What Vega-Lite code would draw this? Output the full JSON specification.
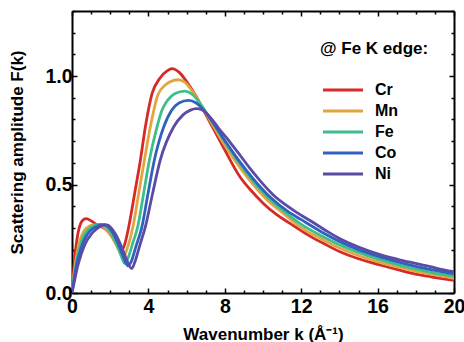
{
  "$schema": "https://vega.github.io/schema/vega-lite/v6.json",
  "width": 382,
  "height": 282,
  "autosize": {"type": "none"},
  "padding": {"left": 72, "top": 11, "right": 10, "bottom": 49},
  "background": "white",
  "config": {"view": {"stroke": null}, "font": "Liberation Sans"},
  "datasets": {
    "curves": [
      {"el":"Cr","k":0,"F":0},{"el":"Cr","k":0.15,"F":0.17},{"el":"Cr","k":0.3,"F":0.27},{"el":"Cr","k":0.45,"F":0.32},{"el":"Cr","k":0.6,"F":0.338},{"el":"Cr","k":0.75,"F":0.343},{"el":"Cr","k":0.9,"F":0.338},{"el":"Cr","k":1.1,"F":0.327},{"el":"Cr","k":1.3,"F":0.315},{"el":"Cr","k":1.5,"F":0.307},{"el":"Cr","k":1.7,"F":0.298},{"el":"Cr","k":1.9,"F":0.282},{"el":"Cr","k":2.1,"F":0.258},{"el":"Cr","k":2.3,"F":0.228},{"el":"Cr","k":2.45,"F":0.207},{"el":"Cr","k":2.6,"F":0.196},{"el":"Cr","k":2.75,"F":0.222},{"el":"Cr","k":2.97,"F":0.305},{"el":"Cr","k":3.28,"F":0.459},{"el":"Cr","k":3.58,"F":0.612},{"el":"Cr","k":3.84,"F":0.765},{"el":"Cr","k":4.19,"F":0.919},{"el":"Cr","k":4.6,"F":0.99},{"el":"Cr","k":5.0,"F":1.025},{"el":"Cr","k":5.24,"F":1.034},{"el":"Cr","k":5.6,"F":1.018},{"el":"Cr","k":6.0,"F":0.975},{"el":"Cr","k":6.54,"F":0.9},{"el":"Cr","k":6.96,"F":0.83},{"el":"Cr","k":7.45,"F":0.75},{"el":"Cr","k":7.92,"F":0.673},{"el":"Cr","k":8.8,"F":0.535},{"el":"Cr","k":9.4,"F":0.47},{"el":"Cr","k":10.02,"F":0.413},{"el":"Cr","k":10.7,"F":0.362},{"el":"Cr","k":11.41,"F":0.321},{"el":"Cr","k":12.37,"F":0.267},{"el":"Cr","k":13.2,"F":0.227},{"el":"Cr","k":14.03,"F":0.19},{"el":"Cr","k":15,"F":0.158},{"el":"Cr","k":16.13,"F":0.129},{"el":"Cr","k":17.2,"F":0.104},{"el":"Cr","k":18.22,"F":0.083},{"el":"Cr","k":19.1,"F":0.07},{"el":"Cr","k":20,"F":0.058},

      {"el":"Mn","k":0,"F":0},{"el":"Mn","k":0.15,"F":0.12},{"el":"Mn","k":0.3,"F":0.2},{"el":"Mn","k":0.45,"F":0.25},{"el":"Mn","k":0.6,"F":0.282},{"el":"Mn","k":0.8,"F":0.302},{"el":"Mn","k":1.0,"F":0.312},{"el":"Mn","k":1.2,"F":0.314},{"el":"Mn","k":1.4,"F":0.312},{"el":"Mn","k":1.6,"F":0.306},{"el":"Mn","k":1.8,"F":0.293},{"el":"Mn","k":2.0,"F":0.272},{"el":"Mn","k":2.2,"F":0.244},{"el":"Mn","k":2.4,"F":0.207},{"el":"Mn","k":2.55,"F":0.178},{"el":"Mn","k":2.68,"F":0.163},{"el":"Mn","k":2.85,"F":0.195},{"el":"Mn","k":3.19,"F":0.305},{"el":"Mn","k":3.49,"F":0.459},{"el":"Mn","k":3.79,"F":0.612},{"el":"Mn","k":4.1,"F":0.765},{"el":"Mn","k":4.49,"F":0.912},{"el":"Mn","k":4.9,"F":0.96},{"el":"Mn","k":5.25,"F":0.978},{"el":"Mn","k":5.58,"F":0.983},{"el":"Mn","k":5.9,"F":0.972},{"el":"Mn","k":6.3,"F":0.93},{"el":"Mn","k":6.8,"F":0.86},{"el":"Mn","k":7.3,"F":0.785},{"el":"Mn","k":7.9,"F":0.695},{"el":"Mn","k":8.5,"F":0.615},{"el":"Mn","k":9.3,"F":0.52},{"el":"Mn","k":10.2,"F":0.43},{"el":"Mn","k":11.1,"F":0.365},{"el":"Mn","k":12,"F":0.3},{"el":"Mn","k":13,"F":0.252},{"el":"Mn","k":14,"F":0.207},{"el":"Mn","k":15,"F":0.173},{"el":"Mn","k":16,"F":0.145},{"el":"Mn","k":17,"F":0.121},{"el":"Mn","k":18,"F":0.1},{"el":"Mn","k":19,"F":0.083},{"el":"Mn","k":20,"F":0.068},

      {"el":"Fe","k":0,"F":0},{"el":"Fe","k":0.15,"F":0.1},{"el":"Fe","k":0.3,"F":0.175},{"el":"Fe","k":0.45,"F":0.225},{"el":"Fe","k":0.6,"F":0.26},{"el":"Fe","k":0.8,"F":0.288},{"el":"Fe","k":1.0,"F":0.303},{"el":"Fe","k":1.2,"F":0.312},{"el":"Fe","k":1.45,"F":0.316},{"el":"Fe","k":1.7,"F":0.31},{"el":"Fe","k":1.9,"F":0.294},{"el":"Fe","k":2.1,"F":0.268},{"el":"Fe","k":2.3,"F":0.232},{"el":"Fe","k":2.5,"F":0.19},{"el":"Fe","k":2.65,"F":0.154},{"el":"Fe","k":2.77,"F":0.135},{"el":"Fe","k":2.95,"F":0.165},{"el":"Fe","k":3.2,"F":0.235},{"el":"Fe","k":3.44,"F":0.305},{"el":"Fe","k":3.75,"F":0.459},{"el":"Fe","k":4.05,"F":0.612},{"el":"Fe","k":4.45,"F":0.765},{"el":"Fe","k":4.71,"F":0.842},{"el":"Fe","k":5.0,"F":0.888},{"el":"Fe","k":5.4,"F":0.92},{"el":"Fe","k":5.9,"F":0.931},{"el":"Fe","k":6.3,"F":0.915},{"el":"Fe","k":6.8,"F":0.862},{"el":"Fe","k":7.3,"F":0.795},{"el":"Fe","k":7.9,"F":0.71},{"el":"Fe","k":8.5,"F":0.632},{"el":"Fe","k":9.3,"F":0.535},{"el":"Fe","k":10.2,"F":0.445},{"el":"Fe","k":11.1,"F":0.377},{"el":"Fe","k":12,"F":0.316},{"el":"Fe","k":13,"F":0.266},{"el":"Fe","k":14,"F":0.222},{"el":"Fe","k":15,"F":0.187},{"el":"Fe","k":16,"F":0.157},{"el":"Fe","k":17,"F":0.132},{"el":"Fe","k":18,"F":0.111},{"el":"Fe","k":19,"F":0.092},{"el":"Fe","k":20,"F":0.078},

      {"el":"Co","k":0,"F":0},{"el":"Co","k":0.15,"F":0.085},{"el":"Co","k":0.3,"F":0.155},{"el":"Co","k":0.45,"F":0.2},{"el":"Co","k":0.6,"F":0.237},{"el":"Co","k":0.8,"F":0.27},{"el":"Co","k":1.0,"F":0.29},{"el":"Co","k":1.25,"F":0.305},{"el":"Co","k":1.5,"F":0.314},{"el":"Co","k":1.72,"F":0.315},{"el":"Co","k":1.95,"F":0.3},{"el":"Co","k":2.15,"F":0.275},{"el":"Co","k":2.35,"F":0.24},{"el":"Co","k":2.55,"F":0.198},{"el":"Co","k":2.75,"F":0.152},{"el":"Co","k":2.93,"F":0.125},{"el":"Co","k":3.1,"F":0.145},{"el":"Co","k":3.35,"F":0.215},{"el":"Co","k":3.66,"F":0.305},{"el":"Co","k":3.98,"F":0.459},{"el":"Co","k":4.31,"F":0.612},{"el":"Co","k":4.8,"F":0.765},{"el":"Co","k":5.22,"F":0.842},{"el":"Co","k":5.6,"F":0.876},{"el":"Co","k":6.1,"F":0.888},{"el":"Co","k":6.5,"F":0.876},{"el":"Co","k":7.0,"F":0.832},{"el":"Co","k":7.5,"F":0.77},{"el":"Co","k":8.1,"F":0.69},{"el":"Co","k":8.7,"F":0.615},{"el":"Co","k":9.5,"F":0.525},{"el":"Co","k":10.4,"F":0.44},{"el":"Co","k":11.3,"F":0.376},{"el":"Co","k":12,"F":0.338},{"el":"Co","k":13,"F":0.285},{"el":"Co","k":14,"F":0.238},{"el":"Co","k":15,"F":0.2},{"el":"Co","k":16,"F":0.17},{"el":"Co","k":17,"F":0.145},{"el":"Co","k":18,"F":0.123},{"el":"Co","k":19,"F":0.104},{"el":"Co","k":20,"F":0.088},

      {"el":"Ni","k":0,"F":0},{"el":"Ni","k":0.15,"F":0.065},{"el":"Ni","k":0.3,"F":0.125},{"el":"Ni","k":0.45,"F":0.17},{"el":"Ni","k":0.6,"F":0.208},{"el":"Ni","k":0.8,"F":0.245},{"el":"Ni","k":1.0,"F":0.27},{"el":"Ni","k":1.25,"F":0.293},{"el":"Ni","k":1.5,"F":0.308},{"el":"Ni","k":1.82,"F":0.314},{"el":"Ni","k":2.05,"F":0.3},{"el":"Ni","k":2.25,"F":0.275},{"el":"Ni","k":2.45,"F":0.242},{"el":"Ni","k":2.65,"F":0.2},{"el":"Ni","k":2.85,"F":0.155},{"el":"Ni","k":3.0,"F":0.125},{"el":"Ni","k":3.13,"F":0.113},{"el":"Ni","k":3.3,"F":0.145},{"el":"Ni","k":3.55,"F":0.22},{"el":"Ni","k":3.84,"F":0.305},{"el":"Ni","k":4.22,"F":0.459},{"el":"Ni","k":4.62,"F":0.612},{"el":"Ni","k":5.32,"F":0.765},{"el":"Ni","k":5.8,"F":0.82},{"el":"Ni","k":6.2,"F":0.843},{"el":"Ni","k":6.5,"F":0.85},{"el":"Ni","k":6.8,"F":0.845},{"el":"Ni","k":7.23,"F":0.811},{"el":"Ni","k":7.7,"F":0.757},{"el":"Ni","k":8.27,"F":0.696},{"el":"Ni","k":8.8,"F":0.635},{"el":"Ni","k":9.32,"F":0.574},{"el":"Ni","k":9.9,"F":0.512},{"el":"Ni","k":10.54,"F":0.452},{"el":"Ni","k":11.1,"F":0.412},{"el":"Ni","k":11.76,"F":0.372},{"el":"Ni","k":12.46,"F":0.334},{"el":"Ni","k":13.2,"F":0.293},{"el":"Ni","k":14.03,"F":0.25},{"el":"Ni","k":15,"F":0.212},{"el":"Ni","k":16.13,"F":0.177},{"el":"Ni","k":17.2,"F":0.152},{"el":"Ni","k":18.22,"F":0.132},{"el":"Ni","k":19.1,"F":0.114},{"el":"Ni","k":20,"F":0.098}
    ]
  },
  "data": {"name": "curves"},
  "layer": [
    {
      "mark": {"type": "line", "interpolate": "monotone", "strokeWidth": 2.8, "clip": true},
      "encoding": {
        "x": {
          "field": "k", "type": "quantitative",
          "scale": {"domain": [0, 20], "nice": false, "zero": false},
          "axis": {
            "orient": "bottom",
            "values": [0,1,2,3,4,5,6,7,8,9,10,11,12,13,14,15,16,17,18,19,20],
            "format": "d",
            "labelExpr": "datum.value % 4 === 0 ? datum.label : ''",
            "tickSize": {"condition": {"test": "datum.value % 4 === 0", "value": -5}, "value": -3},
            "tickWidth": 1.5, "tickColor": "black",
            "domainColor": "black", "domainWidth": 2,
            "labelFont": "Liberation Sans", "labelFontSize": 19.5, "labelFontWeight": "bold", "labelColor": "black",
            "labelPadding": 9, "labelFlush": false, "labelOverlap": false,
            "grid": false,
            "title": "Wavenumber k (Å⁻¹)",
            "titleFont": "Liberation Sans", "titleFontSize": 17, "titleFontWeight": "bold", "titleColor": "black",
            "titleX": 191, "titleY": 46, "titleBaseline": "alphabetic", "titleAlign": "center"
          }
        },
        "y": {
          "field": "F", "type": "quantitative",
          "scale": {"domain": [0, 1.3], "nice": false},
          "axis": {
            "orient": "left",
            "values": [0,0.1,0.2,0.3,0.4,0.5,0.6,0.7,0.8,0.9,1.0,1.1,1.2,1.3],
            "format": ".1f",
            "labelExpr": "abs(datum.value*2 - round(datum.value*2)) < 0.001 ? datum.label : ''",
            "tickSize": {"condition": {"test": "abs(datum.value*2 - round(datum.value*2)) < 0.001", "value": -5}, "value": -3},
            "tickWidth": 1.5, "tickColor": "black",
            "domainColor": "black", "domainWidth": 2,
            "labelFont": "Liberation Sans", "labelFontSize": 19.5, "labelFontWeight": "bold", "labelColor": "black",
            "labelPadding": 5, "labelFlush": false, "labelOverlap": false,
            "grid": false,
            "title": "Scattering amplitude F(k)",
            "titleFont": "Liberation Sans", "titleFontSize": 17, "titleFontWeight": "bold", "titleColor": "black",
            "titleX": -55, "titleY": 141, "titleAngle": -90, "titleBaseline": "middle", "titleAlign": "center"
          }
        },
        "color": {
          "field": "el", "type": "nominal",
          "scale": {"domain": ["Cr","Mn","Fe","Co","Ni"], "range": ["#d62a27","#e2a541","#3dbf8c","#2f62bf","#5b4aa6"]},
          "legend": {
            "orient": "none", "legendX": 248, "legendY": 30,
            "title": "@ Fe K edge:",
            "titleFont": "Liberation Sans", "titleFontSize": 17, "titleFontWeight": "bold", "titleColor": "black",
            "titlePadding": 24, "titleAnchor": "start", "titleAlign": "left",
            "labelFont": "Liberation Sans", "labelFontSize": 16, "labelFontWeight": "bold", "labelColor": "black",
            "symbolType": "M-4,0M-1.2,0H6.8", "symbolSize": 100, "symbolStrokeWidth": 3,
            "symbolOffset": 1, "labelOffset": 38, "rowPadding": 5, "padding": 0
          }
        }
      }
    },
    {
      "mark": {"type": "line", "opacity": 0},
      "encoding": {
        "detail": {"field": "el"},
        "x": {
          "field": "k", "type": "quantitative",
          "axis": {
            "orient": "top",
            "values": [0,1,2,3,4,5,6,7,8,9,10,11,12,13,14,15,16,17,18,19,20],
            "labels": false, "title": null, "grid": false,
            "tickSize": {"condition": {"test": "datum.value % 4 === 0", "value": -5}, "value": -3},
            "tickWidth": 1.5, "tickColor": "black",
            "domainColor": "black", "domainWidth": 2
          }
        },
        "y": {
          "field": "F", "type": "quantitative",
          "axis": {
            "orient": "right",
            "values": [0,0.1,0.2,0.3,0.4,0.5,0.6,0.7,0.8,0.9,1.0,1.1,1.2,1.3],
            "labels": false, "title": null, "grid": false,
            "tickSize": {"condition": {"test": "abs(datum.value*2 - round(datum.value*2)) < 0.001", "value": -5}, "value": -3},
            "tickWidth": 1.5, "tickColor": "black",
            "domainColor": "black", "domainWidth": 2
          }
        }
      }
    }
  ],
  "resolve": {"axis": {"x": "independent", "y": "independent"}}
}
